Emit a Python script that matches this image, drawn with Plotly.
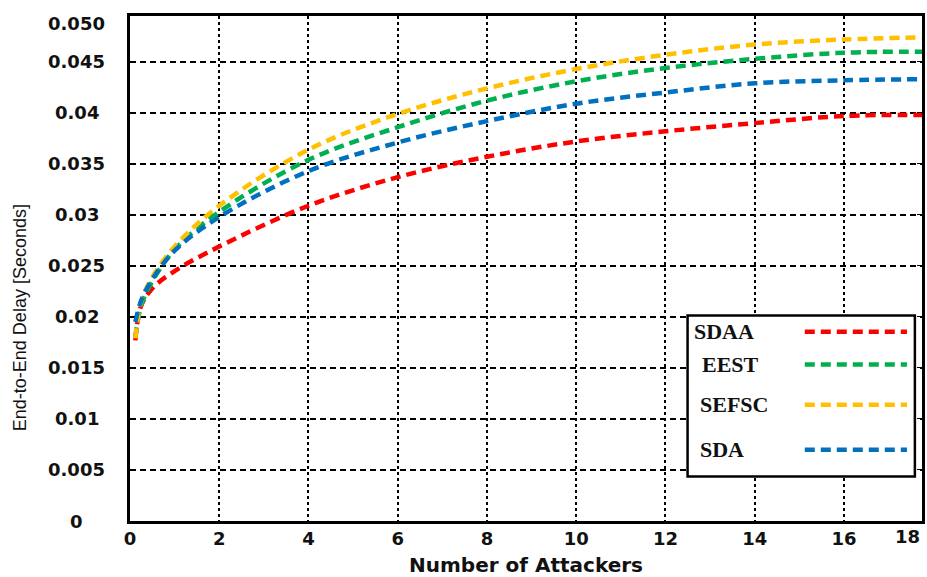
import plotly.graph_objects as go

# ---- data ----
attackers = [0.12, 0.25, 0.5, 1, 2, 4, 6, 8, 10, 12, 14, 16, 17.75]
sdaa  = [0.0177, 0.0211, 0.0228, 0.0245, 0.0269, 0.0309, 0.0337, 0.0357, 0.0372, 0.0382, 0.0390, 0.0397, 0.0398]
eest  = [0.0180, 0.0211, 0.0235, 0.0266, 0.0303, 0.0354, 0.0386, 0.0412, 0.0431, 0.0444, 0.0453, 0.0459, 0.0460]
sefsc = [0.0179, 0.0215, 0.0239, 0.0269, 0.0309, 0.0364, 0.0399, 0.0424, 0.0443, 0.0457, 0.0467, 0.0472, 0.0474]
sda   = [0.0195, 0.0216, 0.0237, 0.0265, 0.0298, 0.0343, 0.0371, 0.0392, 0.0409, 0.0420, 0.0429, 0.0432, 0.0433]

series_names = ["SDAA", "EEST", "SEFSC", "SDA"]
series_vals = [sdaa, eest, sefsc, sda]
colors = ["#FF0000", "#00B050", "#FFC000", "#0070C0"]

x_ticks = [0, 2, 4, 6, 8, 10, 12, 14, 16]
x_ticktext = ["0", "2", "4", "6", "8", "10", "12", "14", "16"]
y_grid = [0.005, 0.01, 0.015, 0.02, 0.025, 0.03, 0.035, 0.04, 0.045]
y_label_vals = [0, 0.005, 0.01, 0.015, 0.02, 0.025, 0.03, 0.035, 0.04, 0.045, 0.0488]
y_label_text = ["0", "0.005", "0.01", "0.015", "0.02", "0.025", "0.03", "0.035", "0.04", "0.045", "0.050"]

X_MAX = 17.75
Y_MAX = 0.0495

BOLD = "DejaVu Sans"
DASH = "10px,6px"
TICKFONT = dict(family=BOLD, size=18, color="#111", weight="bold")

fig = go.Figure()
for name, vals, c in zip(series_names, series_vals, colors):
    fig.add_trace(go.Scatter(x=attackers, y=vals, mode="lines", name=name,
                             line=dict(color=c, width=4.5, dash=DASH, shape="spline", smoothing=1.0),
                             showlegend=False))

annotations = []
for v, t in zip(y_label_vals, y_label_text):
    annotations.append(dict(x=-0.067, xref="paper", y=v, yref="y", text=t, showarrow=False,
                            xanchor="center", yanchor="middle", font=TICKFONT))
# last x tick label (18) at the right edge
annotations.append(dict(x=1.0, xref="paper", y=-0.03, yref="paper", text="18", showarrow=False,
                        xanchor="right", yanchor="middle", font=TICKFONT))
# y-axis title (placed lower than centre, as in the reference)
annotations.append(dict(x=-0.138, xref="paper", y=0.403, yref="paper",
                        text="End-to-End Delay [Seconds]", showarrow=False, textangle=-90,
                        xanchor="center", yanchor="middle",
                        font=dict(family="Liberation Sans", size=18, color="#111")))

# manual legend (text on the left, line sample on the right)
leg_y = [0.375, 0.310, 0.230, 0.141]
leg_tx = [0.710, 0.720, 0.717, 0.717]
shapes = [dict(type="rect", xref="paper", yref="paper", x0=0.704, x1=0.991, y0=0.088, y1=0.407,
               line=dict(color="black", width=2.5), fillcolor="white", layer="above")]
for name, c, yy, tx in zip(series_names, colors, leg_y, leg_tx):
    annotations.append(dict(x=tx, xref="paper", y=yy, yref="paper", text=name, showarrow=False,
                            xanchor="left", yanchor="middle",
                            font=dict(family="Liberation Serif", size=22, color="#111", weight="bold")))
    shapes.append(dict(type="line", xref="paper", yref="paper", x0=0.852, x1=0.981, y0=yy, y1=yy,
                       line=dict(color=c, width=4.5, dash=DASH), layer="above"))

fig.update_layout(
    width=927, height=577,
    margin=dict(l=130, r=2, t=16, b=52),
    paper_bgcolor="white", plot_bgcolor="white",
    annotations=annotations, shapes=shapes,
    xaxis=dict(range=[0, X_MAX], tickvals=x_ticks, ticktext=x_ticktext,
               showgrid=True, gridcolor="black", gridwidth=2, griddash="dot",
               showline=True, linecolor="black", linewidth=2.5, mirror=True,
               ticks="", zeroline=False, tickfont=TICKFONT,
               title=dict(text="Number of Attackers", standoff=12,
                          font=dict(family=BOLD, size=20, color="#111", weight="bold"))),
    yaxis=dict(range=[0, Y_MAX], tickvals=y_grid, showticklabels=False,
               showgrid=True, gridcolor="black", gridwidth=1.5, griddash="6px,4px",
               showline=True, linecolor="black", linewidth=2.5, mirror="ticks",
               ticks="inside", ticklen=5, tickcolor="black", zeroline=False),
)

fig.write_html("out.html")
